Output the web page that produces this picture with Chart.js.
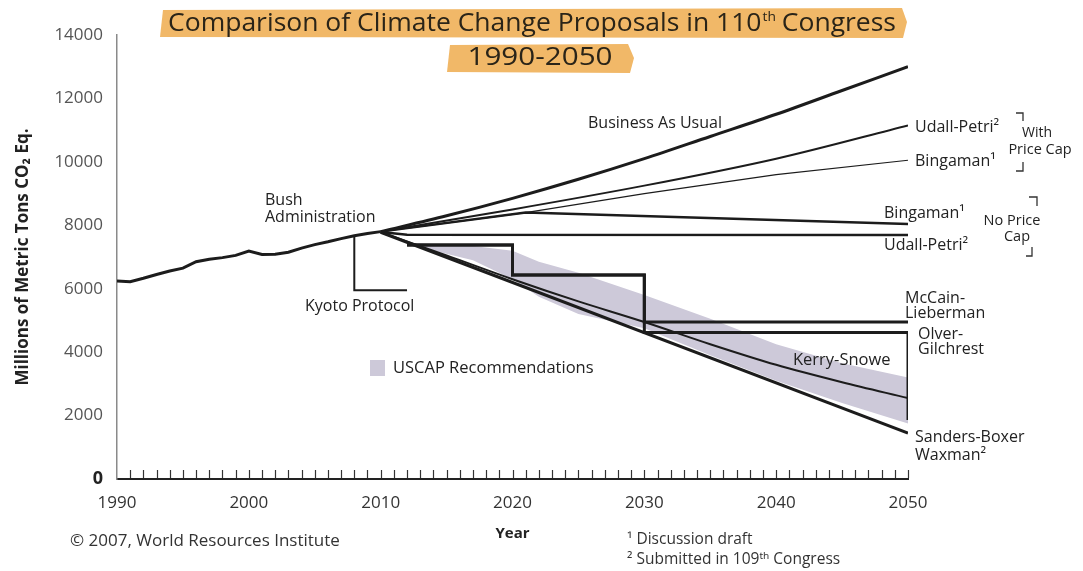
<!DOCTYPE html>
<html>
<head>
<meta charset="utf-8">
<script src="https://cdn.jsdelivr.net/npm/chart.js@4.4.0/dist/chart.umd.min.js"></script>
<style>
  html, body { margin: 0; padding: 0; background: #fff; }
  #wrap { width: 1083px; height: 571px; }
</style>
</head>
<body>
<div id="wrap"><canvas id="chart" width="1083" height="571"></canvas></div>
<script>
// ---- data (million metric tons CO2 eq.) ----
const historyYears = [1990, 1991, 1992, 1993, 1994, 1995, 1996, 1997, 1998, 1999, 2000,
                      2001, 2002, 2003, 2004, 2005, 2006, 2007, 2008, 2009, 2010];
const historyValues = [6240, 6220, 6330, 6450, 6560, 6650, 6850, 6930, 6980, 7050, 7190,
                       7080, 7090, 7150, 7280, 7390, 7480, 7580, 7670, 7740, 7800];

const bauYears = [2010, 2015, 2020, 2025, 2030, 2035, 2040, 2045, 2050];
const bauValues = [7800, 8300, 8850, 9450, 10100, 10800, 11500, 12250, 13000];

const udallCapYears = [2010, 2020, 2030, 2040, 2050];
const udallCapValues = [7800, 8500, 9250, 10100, 11150];

const bingamanCapYears = [2010, 2021, 2030, 2040, 2050];
const bingamanCapValues = [7800, 8400, 9000, 9600, 10050];

const bingamanNoCapYears = [2010, 2021, 2050];
const bingamanNoCapValues = [7800, 8400, 8040];

const udallNoCapYears = [2010, 2012, 2050];
const udallNoCapValues = [7790, 7700, 7690];

const mccainYears = [2012, 2020, 2030, 2050];
const mccainValues = [7380, 6430, 4950, 4950];

const olverYears = [2012, 2020, 2030, 2050];
const olverValues = [7380, 6430, 4620, 1860];

const sandersYears = [2010, 2050];
const sandersValues = [7780, 1450];

const kerryYears = [2010, 2015, 2020, 2025, 2030, 2035, 2040, 2045, 2050];
const kerryValues = [7780, 7050, 6300, 5600, 4950, 4250, 3600, 3050, 2550];

const kyotoYears = [2008, 2008, 2012];
const kyotoValues = [7660, 5950, 5950];

const uscapYears = [2012, 2017, 2020, 2022, 2025, 2030, 2035, 2040, 2045, 2050];
const uscapUpper = [7450, 7350, 7200, 6850, 6500, 5800, 5050, 4250, 3650, 3200];
const uscapLower = [7400, 6900, 6300, 5750, 5200, 4750, 3900, 3100, 2400, 1750];

const xTickYears = [1990, 2000, 2010, 2020, 2030, 2040, 2050];
const yTickValues = [0, 2000, 4000, 6000, 8000, 10000, 12000, 14000];

const FONT = '"Open Sans", "Noto Sans", sans-serif';
const INK = '#1c1c1c';
const BAND = '#cdc9d9';

function pts(xs, ys) {
    return xs.map((x, i) => ({ x: x, y: ys[i] }));
}

function line(label, xs, ys, width, extra) {
    return Object.assign({
        label: label,
        data: pts(xs, ys),
        borderColor: INK,
        borderWidth: width,
        pointRadius: 0,
        fill: false,
        tension: 0
    }, extra || {});
}

// text and decorations that sit around the plot
const decorations = {
    id: 'decorations',
    afterDraw(chart) {
        const ctx = chart.ctx;
        const xs = chart.scales.x;
        const area = chart.chartArea;

        const text = (str, x, y, size, opts) => {
            opts = opts || {};
            ctx.save();
            ctx.font = (opts.bold ? 'bold ' : '') + size + 'px ' + FONT;
            ctx.fillStyle = opts.color || '#222';
            ctx.textAlign = opts.align || 'left';
            ctx.textBaseline = 'middle';
            ctx.fillText(str, x, y);
            ctx.restore();
        };

        // yearly minor ticks along the x axis
        ctx.save();
        ctx.strokeStyle = '#333';
        ctx.lineWidth = 1.2;
        for (let yr = 1991; yr <= 2050; yr++) {
            const px = Math.round(xs.getPixelForValue(yr)) + 0.5;
            ctx.beginPath();
            ctx.moveTo(px, area.bottom - 1);
            ctx.lineTo(px, area.bottom - 9);
            ctx.stroke();
        }
        ctx.restore();

        // title with highlighter marks
        ctx.save();
        ctx.fillStyle = '#f1b868';
        ctx.beginPath();
        ctx.moveTo(163, 10); ctx.lineTo(902, 8); ctx.lineTo(907, 22);
        ctx.lineTo(903, 38); ctx.lineTo(160, 37); ctx.closePath();
        ctx.fill();
        ctx.beginPath();
        ctx.moveTo(450, 45); ctx.lineTo(628, 44); ctx.lineTo(634, 58);
        ctx.lineTo(630, 73); ctx.lineTo(447, 72); ctx.closePath();
        ctx.fill();
        ctx.restore();

        ctx.save();
        ctx.fillStyle = '#2a2418';
        ctx.textBaseline = 'alphabetic';
        const partA = 'Comparison of Climate Change Proposals in 110';
        const partB = ' Congress';
        ctx.font = '25px ' + FONT;
        const wA = ctx.measureText(partA).width;
        const wB = ctx.measureText(partB).width;
        ctx.font = '13px ' + FONT;
        const wSup = ctx.measureText('th').width;
        const sx = 728 / (wA + wSup + wB);
        ctx.translate(168, 31);
        ctx.scale(sx, 1);
        ctx.font = '25px ' + FONT;
        ctx.fillText(partA, 0, 0);
        ctx.font = '13px ' + FONT;
        ctx.fillText('th', wA + 1, -10);
        ctx.font = '25px ' + FONT;
        ctx.fillText(partB, wA + wSup, 0);
        ctx.restore();

        ctx.save();
        ctx.fillStyle = '#2a2418';
        ctx.font = '25px ' + FONT;
        ctx.textAlign = 'center';
        ctx.textBaseline = 'middle';
        const w2 = ctx.measureText('1990-2050').width;
        ctx.translate(540, 58);
        ctx.scale(145 / w2, 1);
        ctx.fillText('1990-2050', 0, 0);
        ctx.restore();

        // labels inside the plot
        text('Business As Usual', 588, 123, 16);
        text('Bush', 265, 200, 16);
        text('Administration', 265, 217, 16);
        text('Kyoto Protocol', 305, 306, 16);
        text('Kerry-Snowe', 793, 360, 16.5);

        ctx.save();
        ctx.fillStyle = BAND;
        ctx.fillRect(370, 360, 15, 16);
        ctx.restore();
        text('USCAP Recommendations', 393, 368, 16.5);

        // labels at the right end
        text('Udall-Petri\u00b2', 915, 127, 16);
        text('Bingaman\u00b9', 915, 161, 16);
        text('With', 1037, 133, 14, { align: 'center' });
        text('Price Cap', 1040, 150, 14.5, { align: 'center' });
        text('Bingaman\u00b9', 884, 213, 16);
        text('Udall-Petri\u00b2', 884, 245, 16);
        text('No Price', 1012, 221, 14.5, { align: 'center' });
        text('Cap', 1017, 237, 14.5, { align: 'center' });
        text('McCain-', 905, 298, 16);
        text('Lieberman', 905, 313, 16);
        text('Olver-', 918, 334, 16);
        text('Gilchrest', 918, 349, 16);
        text('Sanders-Boxer', 915, 437, 16);
        text('Waxman\u00b2', 915, 455, 16);

        // brackets
        ctx.save();
        ctx.strokeStyle = '#333';
        ctx.lineWidth = 1.3;
        const bracket = (x0, y0, x1, y1, x2, y2) => {
            ctx.beginPath();
            ctx.moveTo(x0, y0); ctx.lineTo(x1, y1); ctx.lineTo(x2, y2);
            ctx.stroke();
        };
        bracket(1016, 113, 1023, 113, 1023, 121);
        bracket(1016, 171, 1023, 171, 1023, 162);
        bracket(1029, 197, 1037, 197, 1037, 206);
        bracket(1026, 256, 1032, 256, 1032, 247);
        ctx.restore();

        // footer
        text('\u00a9 2007, World Resources Institute', 70, 541, 17, { color: '#333' });
        text('\u00b9 Discussion draft', 627, 540, 15.5, { color: '#333' });
        text('\u00b2 Submitted in 109\u1d57\u02b0 Congress', 627, 560, 15.5, { color: '#333' });
    }
};

const datasets = [
    line('History', historyYears, historyValues, 3),
    line('Business As Usual', bauYears, bauValues, 3, { cubicInterpolationMode: 'monotone' }),
    line('Udall-Petri (price cap)', udallCapYears, udallCapValues, 2, { cubicInterpolationMode: 'monotone' }),
    line('Bingaman (price cap)', bingamanCapYears, bingamanCapValues, 1.2),
    line('Bingaman (no price cap)', bingamanNoCapYears, bingamanNoCapValues, 2.5),
    line('Udall-Petri (no price cap)', udallNoCapYears, udallNoCapValues, 2.5),
    line('McCain-Lieberman', mccainYears, mccainValues, 3, { stepped: true }),
    line('Olver-Gilchrest', olverYears, olverValues, 3, { stepped: true }),
    line('Sanders-Boxer / Waxman', sandersYears, sandersValues, 3),
    line('Kerry-Snowe', kerryYears, kerryValues, 2, { cubicInterpolationMode: 'monotone' }),
    line('Kyoto Protocol', kyotoYears, kyotoValues, 2),
    line('USCAP low', uscapYears, uscapLower, 0, { order: 10 }),
    line('USCAP high', uscapYears, uscapUpper, 0, {
        order: 10,
        fill: { target: 11 },
        backgroundColor: BAND
    })
];

new Chart(document.getElementById('chart'), {
    type: 'line',
    data: { datasets: datasets },
    options: {
        responsive: false,
        devicePixelRatio: 1,
        animation: false,
        layout: { padding: { left: 0, top: 35, right: 175, bottom: 0 } },
        plugins: {
            legend: { display: false },
            tooltip: { enabled: false },
            title: { display: false }
        },
        scales: {
            x: {
                type: 'linear',
                min: 1990,
                max: 2050,
                afterBuildTicks: (s) => { s.ticks = xTickYears.map(v => ({ value: v })); },
                afterFit: (s) => { s.height = 92; },
                ticks: {
                    font: { family: FONT, size: 17 },
                    color: '#333',
                    padding: 14,
                    callback: (v) => String(v)
                },
                grid: { drawOnChartArea: false, drawTicks: false },
                border: { color: '#222', width: 2 },
                title: {
                    display: true,
                    text: 'Year',
                    font: { family: FONT, size: 15, weight: 'bold' },
                    color: '#222',
                    padding: { top: 0, bottom: 28 }
                }
            },
            y: {
                min: 0,
                max: 14000,
                afterBuildTicks: (s) => { s.ticks = yTickValues.map(v => ({ value: v })); },
                afterFit: (s) => { s.width = 117; },
                ticks: {
                    font: (c) => ({
                        family: FONT,
                        size: c.tick && c.tick.value === 0 ? 18 : 17,
                        weight: c.tick && c.tick.value === 0 ? 'bold' : 'normal'
                    }),
                    color: (c) => (c.tick && c.tick.value === 0 ? '#222' : '#555'),
                    padding: 14,
                    callback: (v) => String(v)
                },
                grid: { drawOnChartArea: false, drawTicks: false },
                border: { color: '#8a8a8a', width: 1.5 },
                title: {
                    display: true,
                    text: 'Millions of Metric Tons CO\u2082 Eq.',
                    font: { family: FONT, size: 17, weight: 'bold' },
                    color: '#222',
                    padding: { top: 13, bottom: 0 }
                }
            }
        }
    },
    plugins: [decorations]
});
</script>
</body>
</html>
